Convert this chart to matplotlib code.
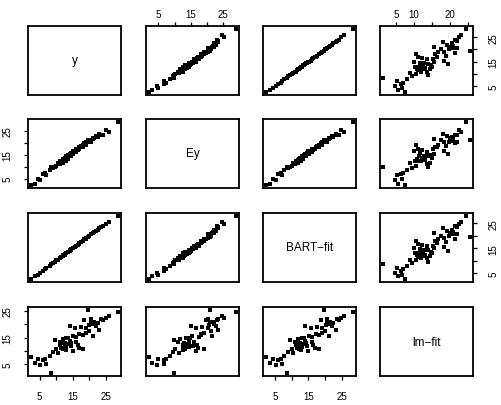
import matplotlib
matplotlib.use("Agg")
import matplotlib.pyplot as plt

plt.rcParams['font.family'] = ['Liberation Sans', 'DejaVu Sans']

names = ['y', 'Ey', 'BART\u2212fit', 'lm\u2212fit']

y = [2.5, 3.5, 4.5, 5, 6, 6.5, 7, 8, 8.5, 9, 10, 10.5, 11, 11, 11.5, 12, 12, 12.5, 12.5, 13,
     13, 13.5, 13.5, 14, 14, 14.5, 15, 15, 15.5, 16, 16, 16.5, 17, 17, 17.5, 18, 18.5, 19, 19, 19.5,
     20, 20, 20.5, 21, 21, 21.5, 22, 22.5, 23, 23.5, 24, 25, 26, 28.5, 9.5, 13, 14.5, 18, 20.5, 12]
Ey = [2.2, 3.0, 5.0, 4.6, 6.8, 7.5, 6.6, 8.6, 9.8, 9.4, 10.2, 11.5, 12.6, 11.2, 12.5, 13.4, 11.8, 13.9, 12.8, 14.4,
      12.6, 14.8, 13.3, 14.6, 15.2, 15.9, 15.4, 16.6, 16.8, 16.2, 17.5, 17.1, 18.4, 17.3, 18.6, 18.2, 19.8, 20.3, 19.1, 21.2,
      20.6, 21.4, 20.4, 22.3, 21.6, 22.0, 22.8, 22.4, 23.6, 23.5, 23.3, 25.4, 24.7, 29.0, 9.9, 13.7, 14.4, 19.2, 20.9, 12.9]
bart = [2.4, 3.6, 4.3, 5.2, 5.8, 6.7, 7.1, 7.8, 8.7, 9.0, 10.1, 10.4, 11.2, 10.9, 11.6, 12.1, 11.9, 12.6, 12.4, 13.1,
        12.9, 13.6, 13.4, 14.1, 13.9, 14.6, 15.1, 14.9, 15.6, 16.0, 16.1, 16.4, 17.1, 16.9, 17.6, 18.0, 18.6, 19.1, 18.9, 19.6,
        20.1, 19.9, 20.6, 21.0, 21.1, 21.4, 22.1, 22.4, 23.1, 23.4, 24.0, 24.8, 25.7, 28.2, 9.6, 13.1, 14.4, 18.1, 20.6, 12.0]
lm = [7.5, 5.5, 6.8, 4.8, 6.5, 7.0, 5.2, 8.2, 1.5, 9.5, 10.5, 9.0, 12.0, 13.5, 11.0, 10.8, 14.5, 12.2, 13.0, 11.5,
      10.2, 14.8, 12.5, 13.8, 19.5, 11.8, 15.5, 10.0, 18.5, 13.5, 15.2, 12.2, 16.5, 11.0, 19.0, 16.0, 21.5, 18.5, 16.8, 25.5,
      19.8, 17.5, 22.0, 20.0, 15.5, 21.0, 19.2, 20.5, 18.0, 22.0, 21.5, 22.5, 23.0, 24.5, 14.0, 15.0, 12.8, 10.5, 20.8, 13.0]
data = [y, Ey, bart, lm]

ticks = [5, 10, 15, 20, 25]
odd = ['5', '', '15', '', '25']
xlabels = {1: odd, 3: ['5', '10', '', '20', ''], 0: odd, 2: odd}
ylabels = {0: odd, 1: odd, 2: odd, 3: odd}

W, H = 502, 406
cols = [28, 146, 263, 380]
rows = [27, 120, 214, 308]
pw, ph = 93, 69

fig = plt.figure(figsize=(W / 100, H / 100), dpi=100)
for i in range(4):
    for j in range(4):
        ax = fig.add_axes([cols[j] / W, 1 - (rows[i] + ph) / H, pw / W, ph / H])
        for s in ax.spines.values():
            s.set_linewidth(1.3)
        ax.set_xticks([]); ax.set_yticks([])
        xd, yd = data[j], data[i]
        lo_x, hi_x = min(xd), max(xd)
        lo_y, hi_y = min(yd), max(yd)
        px = (hi_x - lo_x) * 0.04; py = (hi_y - lo_y) * 0.04
        ax.set_xlim(lo_x - px, hi_x + px)
        ax.set_ylim(lo_y - py, hi_y + py)
        if i == j:
            ax.text(0.5, 0.5, names[i], transform=ax.transAxes, ha='center', va='center', fontsize=8.5)
        else:
            ax.plot(xd, yd, 's', color='black', markersize=2.4, markeredgewidth=0)
        ax.tick_params(length=3, width=0.9, labelsize=7, pad=2)
        if i == 0 and j % 2 == 1:
            ax.xaxis.tick_top(); ax.set_xticks(ticks); ax.set_xticklabels(xlabels[j])
        if i == 3 and j % 2 == 0:
            ax.set_xticks(ticks); ax.set_xticklabels(xlabels[j]); ax.tick_params(axis='x', pad=8)
        if j == 0 and i % 2 == 1:
            ax.set_yticks(ticks); ax.set_yticklabels(ylabels[i], rotation=90, va='center')
            ax.tick_params(axis='y', pad=8)
        if j == 3 and i % 2 == 0:
            ax.yaxis.tick_right(); ax.set_yticks(ticks); ax.set_yticklabels(ylabels[i], rotation=90, va='center')
            ax.tick_params(axis='y', pad=8)

fig.savefig('out.png', dpi=100)
